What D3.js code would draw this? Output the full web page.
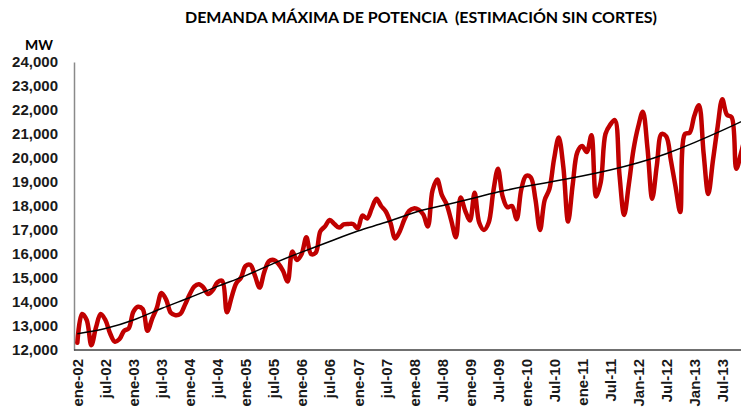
<!DOCTYPE html>
<html>
<head>
<meta charset="utf-8">
<script src="https://cdn.jsdelivr.net/npm/d3@7"></script>
<style>
  html, body { margin: 0; padding: 0; background: #fff; }
  svg { display: block; font-family: Lato, "Liberation Sans", Arial, sans-serif; }
</style>
</head>
<body>
<svg id="chart"></svg>
<script>
// Demanda máxima mensual (MW), ene-2002 .. dic-2013
const demand2002 = [12300, 13500, 13250, 12200, 12950, 13500, 13250, 12700, 12350, 12450, 12800, 12900];
const demand2003 = [13600, 13800, 13700, 12800, 13300, 13750, 14380, 14100, 13550, 13450, 13500, 13870];
const demand2004 = [14300, 14640, 14740, 14600, 14330, 14500, 14820, 14880, 13570, 14200, 14780, 15010];
const demand2005 = [15500, 15550, 15100, 14600, 15250, 15700, 15750, 15600, 15300, 14850, 16100, 15750];
const demand2006 = [16000, 16700, 16000, 16050, 16950, 17150, 17420, 17250, 17100, 17230, 17250, 17250];
const demand2007 = [17070, 17600, 17480, 17900, 18300, 18000, 17770, 17300, 16650, 16950, 17450, 17800];
const demand2008 = [17900, 17850, 17650, 17150, 18650, 19100, 18450, 18080, 17400, 16700, 18350, 17800];
const demand2009 = [17400, 18550, 17300, 17000, 17300, 18600, 19550, 18400, 17950, 18000, 17450, 18700];
const demand2010 = [19250, 19200, 18300, 17000, 18250, 18700, 19950, 20850, 19600, 17350, 18900, 20250];
const demand2011 = [20500, 20250, 20950, 18400, 19000, 21000, 21380, 21580, 19300, 17630, 18900, 20350];
const demand2012 = [21300, 21930, 20400, 18300, 19700, 21000, 20900, 19900, 18800, 17750, 21000, 21050];
const demand2013 = [21750, 22200, 20200, 18500, 19900, 21300, 22450, 21800, 21700, 19550, 20200, 21000];

// línea de tendencia (polinómica), leída cada 6 meses
const trendMonths = [0, 6, 12, 18, 24, 30, 36, 42, 48, 54, 60, 66, 72, 78, 84, 90, 96, 102, 108, 114, 120, 126, 132, 138, 143];
const trendValues = [12680, 12900, 13250, 13730, 14180, 14650, 15100, 15610, 16080, 16520, 16960, 17320, 17720,
                     18010, 18290, 18580, 18820, 19030, 19250, 19500, 19800, 20180, 20640, 21150, 21600];

const xTickLabels = ["ene-02", "jul-02", "ene-03", "jul-03", "ene-04", "jul-04", "ene-05", "jul-05",
                     "ene-06", "jul-06", "ene-07", "jul-07", "ene-08", "Jul-08", "ene-09", "Jul-09",
                     "ene-10", "Jul-10", "ene-11", "Jul-11", "Jan-12", "Jul-12", "Jan-13", "Jul-13"];
const yTicks = [12000, 13000, 14000, 15000, 16000, 17000, 18000, 19000, 20000, 21000, 22000, 23000, 24000];

const title = "DEMANDA MÁXIMA DE POTENCIA  (ESTIMACIÓN SIN CORTES)";
const yUnit = "MW";

const demand = [].concat(demand2002, demand2003, demand2004, demand2005, demand2006, demand2007,
                         demand2008, demand2009, demand2010, demand2011, demand2012, demand2013);
const months = demand.map((d, i) => i);

const width = 741, height = 410;
const plotLeft = 74, plotBottom = 350, plotTop = 62;

const svg = d3.select("#chart").attr("width", width).attr("height", height);

const x = d3.scalePoint().domain(months).range([75, 748]).padding(0.5);
const y = d3.scaleLinear().domain([12000, 24000]).range([plotBottom, plotTop]);

// título
svg.append("text")
  .attr("x", 421).attr("y", 23)
  .attr("text-anchor", "middle")
  .style("font-size", "16px").style("font-weight", "bold")
  .style("white-space", "pre")
  .text(title);

svg.append("text")
  .attr("x", 25).attr("y", 50)
  .style("font-size", "14px").style("font-weight", "bold")
  .text(yUnit);

// eje Y
const yAxis = svg.append("g")
  .attr("transform", `translate(${plotLeft},0)`)
  .call(d3.axisLeft(y).tickValues(yTicks).tickSize(0).tickPadding(16).tickFormat(d3.format(",")));
yAxis.select(".domain").attr("stroke", "#8a8a8a").attr("stroke-width", 1.5);
yAxis.selectAll("text")
  .style("font-size", "15px").style("font-weight", "bold").attr("fill", "#1a1a1a");

// eje X
const xAxis = svg.append("g")
  .attr("transform", `translate(0,${plotBottom})`)
  .call(d3.axisBottom(x)
    .tickValues(months.filter(m => m % 6 === 0 && m / 6 < xTickLabels.length))
    .tickSize(0)
    .tickFormat(m => xTickLabels[m / 6]));
xAxis.select(".domain").attr("stroke", "#404040").attr("stroke-width", 1.5)
  .attr("d", `M${plotLeft},0H${width + 10}`);
xAxis.selectAll("text")
  .attr("transform", "rotate(-90)")
  .attr("text-anchor", "end")
  .attr("x", -9).attr("y", 0).attr("dy", "0.35em")
  .style("font-size", "15px").style("font-weight", "bold").attr("fill", "#1a1a1a");

// serie
const line = d3.line()
  .x((d, i) => x(i))
  .y(d => y(d))
  .curve(d3.curveCatmullRom.alpha(0.5));

svg.append("path")
  .datum(demand)
  .attr("fill", "none")
  .attr("stroke", "#C00000")
  .attr("stroke-width", 4.5)
  .attr("stroke-linejoin", "round")
  .attr("stroke-linecap", "round")
  .attr("d", line);

// tendencia
const trendLine = d3.line()
  .x((d, i) => x(trendMonths[i]))
  .y(d => y(d))
  .curve(d3.curveNatural);

svg.append("path")
  .datum(trendValues)
  .attr("fill", "none")
  .attr("stroke", "#000")
  .attr("stroke-width", 1.5)
  .attr("d", trendLine);
</script>
</body>
</html>
